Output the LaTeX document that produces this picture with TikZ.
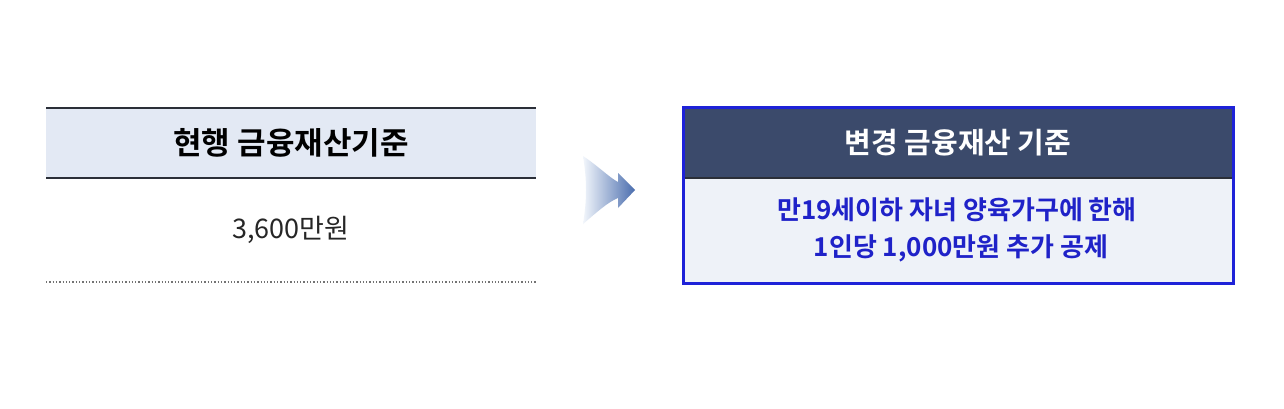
\documentclass[tikz,border=0pt]{standalone}
\usepackage{fontspec}
\setmainfont{Noto Sans CJK KR}
\newfontfamily\kb{Noto Sans CJK KR Bold}
\definecolor{hdrlight}{HTML}{E3E9F4}
\definecolor{linedark}{HTML}{2B2F38}
\definecolor{navy}{HTML}{3B4A6B}
\definecolor{bodylight}{HTML}{EEF2F8}
\definecolor{bborder}{HTML}{1E22D8}
\definecolor{btext}{HTML}{1F22C8}
\definecolor{arrL}{HTML}{F2F6FB}
\definecolor{arrR}{HTML}{4A6DAE}
\tikzset{
  hdrtext/.style={font=\kb\fontsize{31}{36}\selectfont, inner sep=0pt},
  bodytext/.style={font=\kb\fontsize{26}{38}\selectfont, inner sep=0pt, align=center, text=btext},
}
\begin{document}
\begin{tikzpicture}[x=1pt,y=-1pt]
\useasboundingbox[fill=white] (0,0) rectangle (1284,409);
% left table
\fill[hdrlight] (46,108) rectangle (536,178);
\draw[linedark, line width=2.6pt] (46,108) -- (536,108);
\draw[linedark, line width=2.6pt] (46,178) -- (536,178);
\node[hdrtext] (lhdr) at (291,143) {현행 금융재산기준};
\node[font=\fontsize{27}{32}\selectfont, inner sep=0pt, text=black!85] (lval) at (291,230) {3,600만원};
\draw[black!55, line width=1.3pt, dotted] (46,282) -- (536,282);
% arrow
\shade[left color=arrL, right color=arrR]
  (583,156) .. controls (598,166) and (610,178) .. (618,182)
  -- (618,173) -- (635,190) -- (618,208) -- (618,198)
  .. controls (608,202) and (597,212) .. (583,224)
  .. controls (587,200) and (587,180) .. (583,156) -- cycle;
% right box
\fill[bodylight] (683,108) rectangle (1233,283);
\fill[navy] (683,108) rectangle (1233,178);
\draw[linedark, line width=1.2pt] (683,178) -- (1233,178);
\draw[bborder, line width=3pt] (683,108) rectangle (1233,283);
\node[hdrtext, font=\kb\fontsize{29}{34}\selectfont, text=white] (rhdr) at (958,143) {변경 금융재산 기준};
\node[bodytext] (rb1) at (957,210) {만19세이하 자녀 양육가구에 한해};
\node[bodytext] (rb2) at (961,248) {1인당 1,000만원 추가 공제};
\end{tikzpicture}
\end{document}
